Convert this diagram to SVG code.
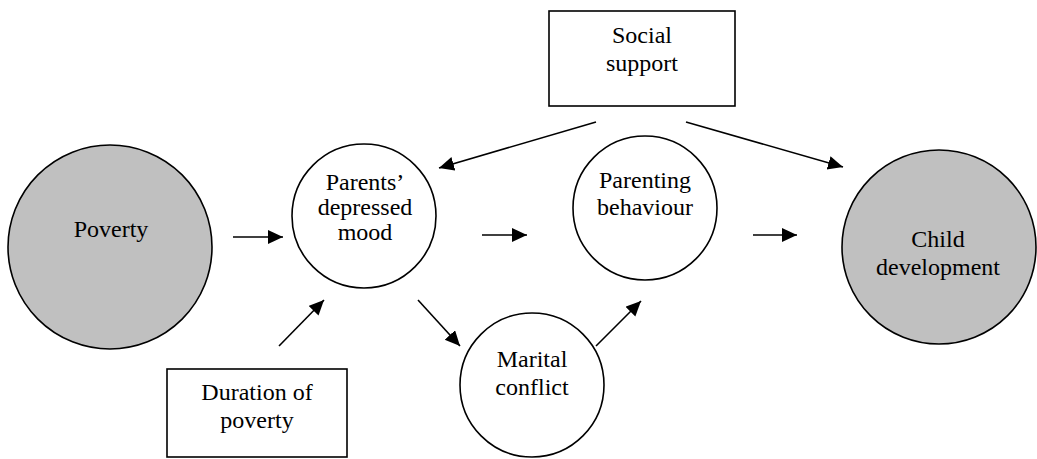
<svg xmlns="http://www.w3.org/2000/svg" width="1037" height="459" viewBox="0 0 1037 459">
<style>
.t{font-family:"Liberation Serif","Times New Roman",serif;font-size:24px;fill:#000;text-anchor:middle}
.n{stroke:#000;stroke-width:1.6}
.g{fill:#c0c0c0}
.w{fill:#fff}
.c line{stroke:#000;stroke-width:1.6;marker-end:url(#ah)}
</style>
<defs>
<marker id="ah" markerUnits="userSpaceOnUse" markerWidth="16" markerHeight="15" refX="15" refY="7" orient="auto">
<path d="M0,0 L15,7 L0,14 z" fill="#000"/>
</marker>
</defs>
<rect width="1037" height="459" fill="#fff"/>
<g id="poverty"><circle class="n g" cx="110" cy="247" r="102"/><text class="t" x="111" y="237">Poverty</text></g>
<g id="parents-mood"><circle class="n w" cx="364" cy="216" r="72"/><text class="t" x="365" y="190">Parents’</text><text class="t" x="365" y="215">depressed</text><text class="t" x="365" y="240">mood</text></g>
<g id="parenting"><circle class="n w" cx="645" cy="208" r="72"/><text class="t" x="645" y="188">Parenting</text><text class="t" x="645" y="215">behaviour</text></g>
<g id="child"><circle class="n g" cx="939" cy="247" r="97"/><text class="t" x="938" y="247">Child</text><text class="t" x="938" y="275">development</text></g>
<g id="marital"><circle class="n w" cx="532" cy="385" r="72"/><text class="t" x="532" y="367">Marital</text><text class="t" x="532" y="395">conflict</text></g>
<g id="social-support"><rect class="n w" x="549" y="11" width="186" height="95"/><text class="t" x="642" y="43">Social</text><text class="t" x="642" y="71">support</text></g>
<g id="duration"><rect class="n w" x="167" y="369" width="180" height="88"/><text class="t" x="257" y="400">Duration of</text><text class="t" x="257" y="428">poverty</text></g>
<g class="c" id="connectors">
<line x1="233" y1="237" x2="283" y2="237"/>
<line x1="482" y1="235" x2="527" y2="235"/>
<line x1="753" y1="235" x2="797" y2="235"/>
<line x1="596" y1="122" x2="439" y2="168"/>
<line x1="686" y1="122" x2="843" y2="167"/>
<line x1="279" y1="346" x2="324" y2="300"/>
<line x1="418" y1="300" x2="460" y2="346"/>
<line x1="596" y1="346" x2="641" y2="301"/>
</g>
</svg>
